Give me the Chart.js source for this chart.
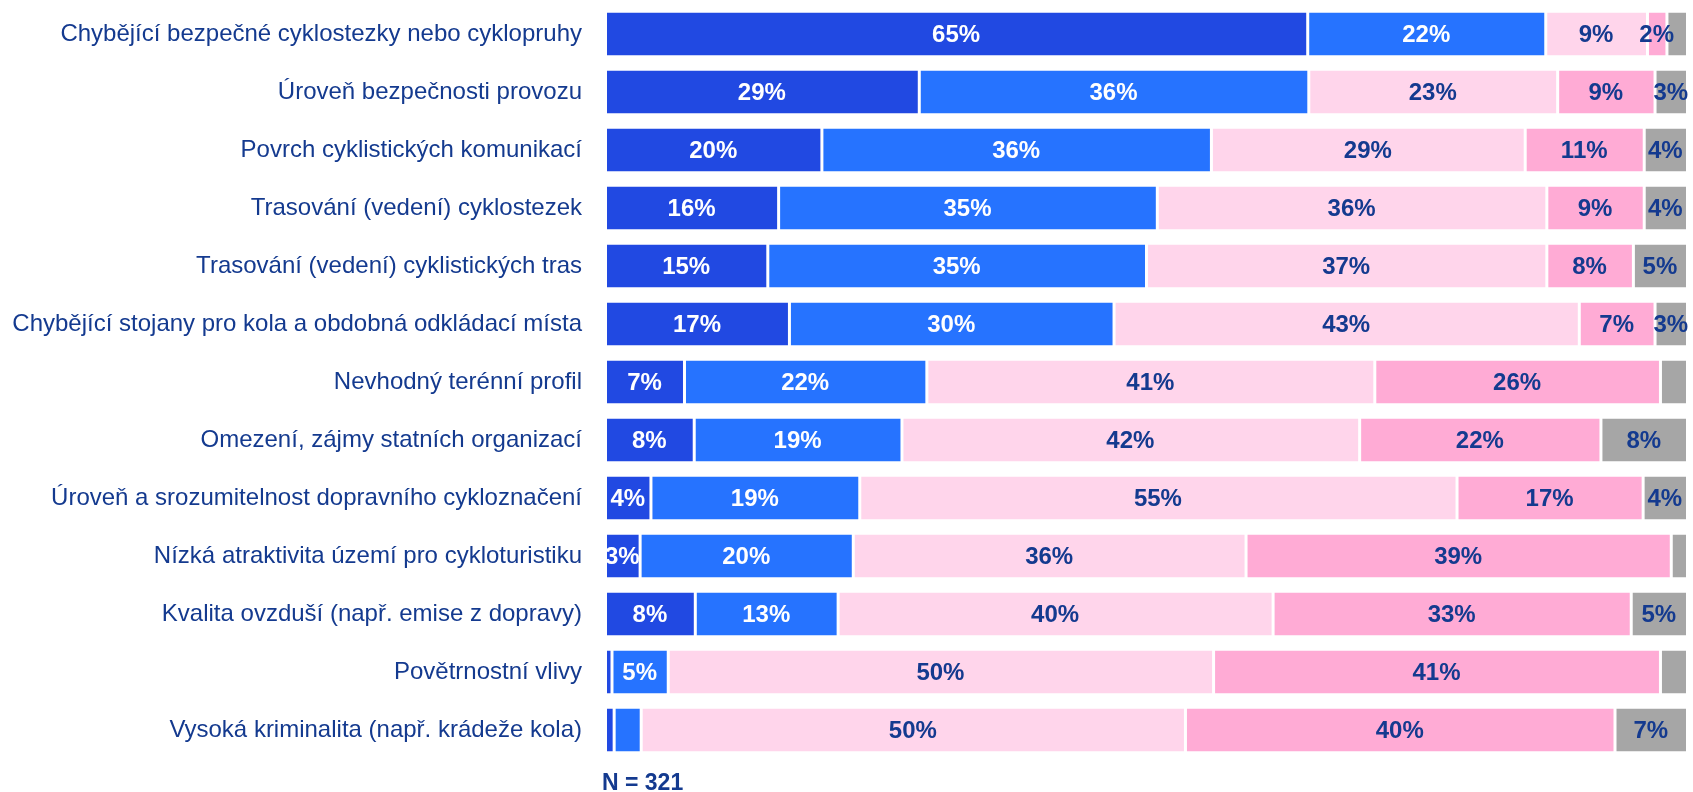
<!DOCTYPE html>
<html>
<head>
<meta charset="utf-8"/>
<title>Cyklo - bariery</title>
<script src="https://cdn.jsdelivr.net/npm/chart.js"></script>
<style>
  html, body { margin: 0; padding: 0; background: #fff; }
  #wrap { width: 1693px; height: 792px; position: relative; }
</style>
</head>
<body>
<div id="wrap"><canvas id="cykloChart"></canvas></div>
<script>
// kategorie (osa Y)
const categories = [
  'Chybějící bezpečné cyklostezky nebo cyklopruhy',
  'Úroveň bezpečnosti provozu',
  'Povrch cyklistických komunikací',
  'Trasování (vedení) cyklostezek',
  'Trasování (vedení) cyklistických tras',
  'Chybějící stojany pro kola a obdobná odkládací místa',
  'Nevhodný terénní profil',
  'Omezení, zájmy statních organizací',
  'Úroveň a srozumitelnost dopravního cykloznačení',
  'Nízká atraktivita území pro cykloturistiku',
  'Kvalita ovzduší (např. emise z dopravy)',
  'Povětrnostní vlivy',
  'Vysoká kriminalita (např. krádeže kola)'
];

// hodnoty v %
const serie1 = [64.9, 29, 20, 16, 15, 17, 7.3, 8.2, 4.2, 3.2, 8.3, 0.6, 0.8];
const serie2 = [22.0, 36, 36, 35, 35, 30, 22.4, 19.2, 19.3, 19.7, 13.2, 5.2, 2.5];
const serie3 = [9.4, 23, 29, 36, 37, 43, 41.4, 42.3, 55.2, 36.3, 40.2, 50.4, 50.3];
const serie4 = [1.8, 9, 11, 9, 8, 7, 26.4, 22.3, 17.2, 39.3, 33.1, 41.3, 39.7];
const serie5 = [1.9, 3, 4, 4, 5, 3, 2.5, 8.0, 4.1, 1.5, 5.2, 2.5, 6.7];

const sampleSize = 'N = 321';
const FONT = "'Liberation Sans', Arial, sans-serif";
const NAVY = '#143A8F';

// minimalni hodnota, od ktere se zobrazi popisek (pro kazdou serii)
const labelMin = [2.8, 2.8, 2.8, 1.5, 2.8];
const labelColors = ['#ffffff', '#ffffff', NAVY, NAVY, NAVY];

const valueLabels = {
  id: 'valueLabels',
  afterDatasetsDraw(chart) {
    const ctx = chart.ctx;
    ctx.save();
    ctx.font = 'bold 24px ' + FONT;
    ctx.textAlign = 'center';
    ctx.textBaseline = 'middle';
    chart.data.datasets.forEach((ds, i) => {
      const meta = chart.getDatasetMeta(i);
      meta.data.forEach((bar, j) => {
        const v = ds.data[j];
        if (v < labelMin[i]) return;
        ctx.fillStyle = labelColors[i];
        ctx.fillText(Math.round(v) + '%', (bar.x + bar.base) / 2, bar.y + 1);
      });
    });
    ctx.restore();
  }
};

const footNote = {
  id: 'footNote',
  afterDraw(chart) {
    const ctx = chart.ctx;
    ctx.save();
    ctx.font = 'bold 23px ' + FONT;
    ctx.fillStyle = NAVY;
    ctx.textAlign = 'left';
    ctx.textBaseline = 'alphabetic';
    ctx.fillText(sampleSize, chart.chartArea.left - 3, 790);
    ctx.restore();
  }
};

const colors = ['#2149E2', '#2673FF', '#FFD5EB', '#FFABD5', '#A6A6A6'];
const series = [serie1, serie2, serie3, serie4, serie5];

const data = {
  labels: categories,
  datasets: series.map((s, i) => ({
    data: s,
    backgroundColor: colors[i],
    borderColor: '#ffffff',
    borderWidth: { left: 2, right: 1, top: 0, bottom: 0 },
    borderSkipped: false,
    barPercentage: 0.745,
    categoryPercentage: 1.0
  }))
};

new Chart(document.getElementById('cykloChart'), {
  type: 'bar',
  data: data,
  options: {
    indexAxis: 'y',
    responsive: true,
    maintainAspectRatio: false,
    animation: false,
    layout: { padding: { top: 5, right: 6, bottom: 33, left: 0 } },
    plugins: {
      legend: { display: false },
      tooltip: { enabled: false }
    },
    scales: {
      x: {
        stacked: true,
        min: 0,
        max: 100,
        display: false
      },
      y: {
        stacked: true,
        grid: { display: false, drawTicks: false },
        border: { display: false },
        ticks: {
          color: NAVY,
          padding: 23,
          font: { family: FONT, size: 24 }
        },
        afterFit(scale) {
          scale.width = 605;
          scale.paddingTop = 0;
          scale.paddingBottom = 0;
        }
      }
    }
  },
  plugins: [valueLabels, footNote]
});
</script>
</body>
</html>
